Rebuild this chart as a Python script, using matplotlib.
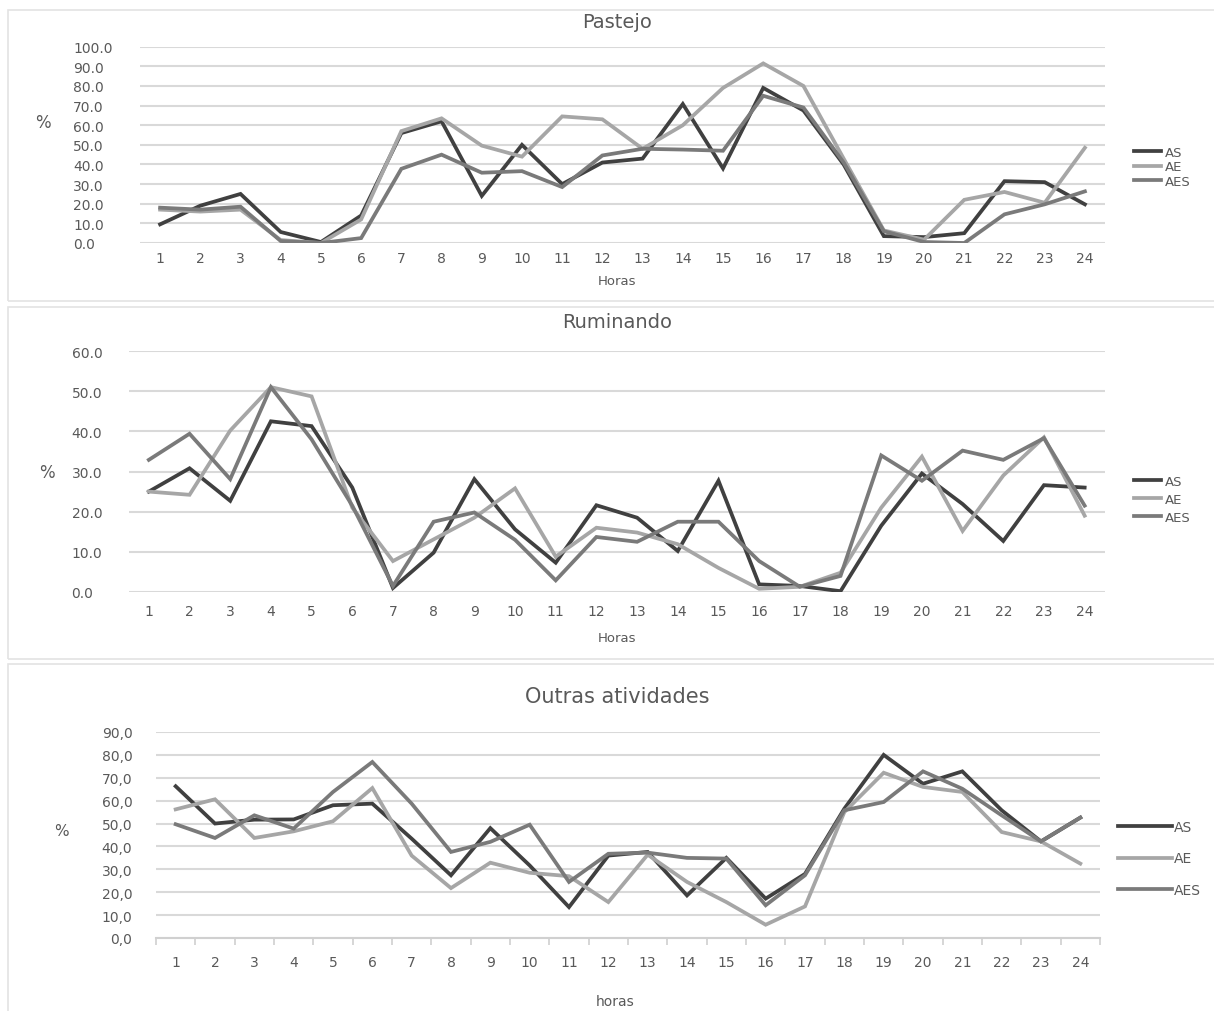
import numpy as np
import matplotlib
matplotlib.use("Agg")
import matplotlib.pyplot as plt
from matplotlib.patches import Rectangle
from matplotlib.ticker import FixedLocator, FuncFormatter

plt.rcParams['font.family'] = ['DejaVu Sans']

hours = list(range(1, 25))
series_names = ['AS', 'AE', 'AES']

# Pastejo
past_as = [9.5, 19, 25, 5.6, 0.5, 14, 56, 62, 24, 50, 30, 41, 43, 70.8, 38, 79, 67.5, 40, 3.5, 3, 5, 31.5, 31, 19.7]
past_ae = [17, 16, 17, 1.5, 0, 12, 57, 63.5, 49.6, 44, 64.5, 63, 48, 60, 79, 91.5, 80, 43, 6.4, 1.7, 22, 26, 20.5, 48.5]
past_aes = [18, 17, 18.5, 1, 0, 2.5, 37.8, 45, 35.8, 36.6, 28.5, 44.6, 48, 47.6, 47, 75, 69, 41, 6, 0.5, 0, 14.6, 19.7, 26.3]

# Ruminando
rum_as = [25, 30.8, 22.7, 42.5, 41.3, 26, 1, 9.8, 28.1, 15.6, 7.3, 21.6, 18.5, 10.2, 27.7, 1.9, 1.5, 0.2, 16.5, 29.5, 21.9, 12.7, 26.6, 26]
rum_ae = [25, 24.2, 40.2, 51, 48.7, 21, 7.7, 13.1, 18.5, 25.8, 8.8, 16, 14.8, 11.9, 6, 0.8, 1.3, 4.8, 21, 33.7, 15.2, 29, 38.5, 19]
rum_aes = [32.9, 39.4, 28.1, 51, 38, 21.5, 1.5, 17.5, 19.8, 13, 2.9, 13.7, 12.5, 17.5, 17.5, 7.7, 1.3, 4, 34, 27.7, 35.2, 32.9, 38.3, 21.5]

# Outras atividades
out_as = [66.3, 50, 51.7, 51.8, 58, 58.7, 43.4, 27.4, 48, 31.7, 13.5, 36, 37.6, 18.6, 35, 17.2, 28, 56.5, 80, 67.4, 72.8, 55.8, 42.2, 52.6]
out_ae = [56.2, 60.6, 43.7, 46.6, 51, 65.5, 36, 21.8, 32.9, 28.5, 27, 15.7, 36.4, 24.5, 15.7, 5.8, 13.8, 55, 72.2, 66, 63.8, 46.3, 42.2, 32.5]
out_aes = [49.7, 43.7, 53.6, 47.8, 63.8, 76.9, 58.7, 37.6, 42, 49.5, 24.5, 36.8, 37.3, 35, 34.7, 14.3, 27.4, 55.8, 59.4, 72.8, 65.2, 53.6, 42.2, 52.6]

colors = ['#404040', '#a6a6a6', '#7a7a7a']
txt = '#595959'
grid = '#d9d9d9'

W, H = 1214, 1012
fig = plt.figure(figsize=(W / 100, H / 100), dpi=100)


def px_axes(l, t, r, b):
    return fig.add_axes([l / W, 1 - b / H, (r - l) / W, (b - t) / H])


def box(t, b):
    fig.patches.append(Rectangle((8 / W, 1 - b / H), 1.2, (b - t) / H, transform=fig.transFigure,
                                 fill=False, ec='#e3e3e3', lw=1.2))


def label(x, y, s, size):
    fig.text(x / W, 1 - y / H, s, fontsize=size, color=txt, ha='center', va='center')


def panel(ax, data, ymax, comma=False, ypad=40, yha='left', xpad=6):
    for vals, c, name in zip(data, colors, series_names):
        ax.plot(hours, vals, color=c, lw=2.7, label=name, solid_joinstyle='miter')
    ax.set_xlim(0.5, 24.5)
    ax.set_ylim(0, ymax)
    ax.set_yticks(np.arange(0, ymax + 1, 10))
    if comma:
        ax.yaxis.set_major_formatter(FuncFormatter(lambda v, p: f'{v:.1f}'.replace('.', ',')))
    else:
        ax.yaxis.set_major_formatter(FuncFormatter(lambda v, p: f'{v:.1f}'))
    ax.set_xticks(hours)
    ax.grid(axis='y', color=grid, lw=1.5)
    ax.set_axisbelow(True)
    for s in ax.spines.values():
        s.set_visible(False)
    ax.tick_params(axis='y', length=0, pad=ypad, labelsize=10, labelcolor=txt)
    for lbl in ax.get_yticklabels():
        lbl.set_horizontalalignment(yha)
    ax.tick_params(axis='x', length=0, pad=xpad, labelsize=10, labelcolor=txt)
    return ax


# ---- Pastejo ----
box(11, 302)
ax1 = px_axes(140, 47.7, 1105, 244)
panel(ax1, [past_as, past_ae, past_aes], 100, ypad=48, xpad=6)
label(617, 22, 'Pastejo', 14)
label(43, 123, '%', 12)
label(617, 282, 'Horas', 9.5)
ax1.legend(loc='upper left', bbox_to_anchor=(1134 / W, 1 - 147 / H), bbox_transform=fig.transFigure,
           frameon=False, fontsize=9.5, handlelength=2.05, handletextpad=0.3, labelspacing=0.1,
           borderpad=0, borderaxespad=0, labelcolor=txt)

# ---- Ruminando ----
box(308, 660)
ax2 = px_axes(128.5, 352, 1105, 593)
panel(ax2, [rum_as, rum_ae, rum_aes], 60, ypad=41, xpad=8.5)
label(617, 323, 'Ruminando', 14)
label(47, 473, '%', 12)
label(617, 638, 'Horas', 9.5)
ax2.legend(loc='upper left', bbox_to_anchor=(1134 / W, 1 - 476 / H), bbox_transform=fig.transFigure,
           frameon=False, fontsize=9.5, handlelength=2.05, handletextpad=0.3, labelspacing=0.38,
           borderpad=0, borderaxespad=0, labelcolor=txt)

# ---- Outras atividades ----
box(665, 1030)
ax3 = px_axes(156, 733, 1100, 939)
panel(ax3, [out_as, out_ae, out_aes], 90, comma=True, ypad=17, yha='right', xpad=12)
ax3.spines['bottom'].set_visible(True)
ax3.spines['bottom'].set_color('#d0d0d0')
ax3.spines['bottom'].set_linewidth(1.5)
ax3.xaxis.set_minor_locator(FixedLocator(np.arange(0.5, 25, 1)))
ax3.tick_params(axis='x', which='minor', length=5, color='#d0d0d0', width=1.2)
label(617, 697, 'Outras atividades', 15)
label(61, 832, '%', 11)
label(615, 1002, 'horas', 10)
ax3.legend(loc='upper left', bbox_to_anchor=(1118 / W, 1 - 821 / H), bbox_transform=fig.transFigure,
           frameon=False, fontsize=10, handlelength=3.9, handletextpad=0.1, labelspacing=1.25,
           borderpad=0, borderaxespad=0, labelcolor=txt)

fig.savefig('out.png', dpi=100)
